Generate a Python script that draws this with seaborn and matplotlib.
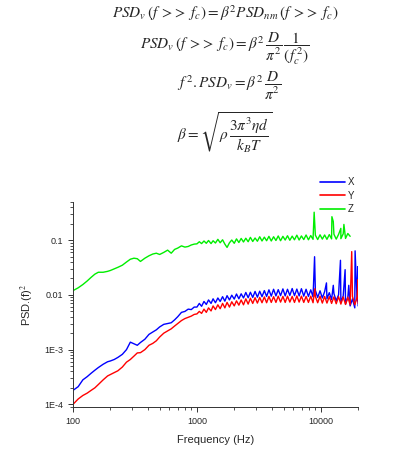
"""
PSD of X, Y, Z signals multiplied by f^2 (log-log)
"""

import pandas as pd
import numpy as np
import matplotlib.pyplot as plt
import seaborn as sns
from matplotlib.ticker import NullFormatter

# -----------------------------
# DATA
# -----------------------------

freq_low = [100, 110, 120, 130, 140, 150, 160, 175, 190, 200, 215, 230, 250, 270,
            290, 310, 330, 350, 380, 410, 440, 470, 500, 540, 580, 620, 660, 700,
            750, 800, 850, 900, 950]

freq_high = [1000, 1045, 1090, 1140, 1190, 1240, 1300, 1350, 1410, 1475, 1540, 1610,
             1680, 1750, 1830, 1910, 2000, 2085, 2180, 2275, 2375, 2480, 2590, 2700,
             2820, 2945, 3075, 3210, 3350, 3500, 3650, 3810, 3980, 4155, 4340, 4530,
             4730, 4940, 5155, 5380, 5620, 5870, 6125, 6400, 6680, 6970, 7280, 7600,
             7940, 8290, 8650, 9030, 9430, 9850, 10280, 10730, 11200, 11700, 12210,
             12750, 13310, 13900, 14510, 15150, 15820, 16510, 17240, 18000, 18790,
             19620, 20000]

x_low = [1.8e-4, 2.1e-4, 2.8e-4, 3.2e-4, 3.7e-4, 4.2e-4, 4.7e-4, 5.4e-4, 6.0e-4, 6.2e-4,
         6.6e-4, 7.2e-4, 8.2e-4, 1.0e-3, 1.37e-3, 1.28e-3, 1.2e-3, 1.35e-3, 1.55e-3,
         1.9e-3, 2.1e-3, 2.3e-3, 2.6e-3, 2.9e-3, 3.0e-3, 3.1e-3, 3.5e-3, 4.0e-3, 4.8e-3,
         5.0e-3, 5.5e-3, 5.4e-3, 6.0e-3]
x_high = [6.0e-3, 7.0e-3, 6.2e-3, 7.6e-3, 6.7e-3, 8.1e-3, 7.0e-3, 8.5e-3, 7.2e-3, 8.8e-3,
          7.6e-3, 9.3e-3, 7.7e-3, 9.7e-3, 8.1e-3, 9.9e-3, 8.4e-3, 10.4e-3, 8.5e-3, 10.5e-3,
          8.8e-3, 11.1e-3, 8.9e-3, 11.2e-3, 9.0e-3, 11.6e-3, 9.1e-3, 11.7e-3, 9.3e-3,
          12.0e-3, 9.4e-3, 12.4e-3, 9.5e-3, 12.7e-3, 9.6e-3, 12.5e-3, 9.7e-3, 12.9e-3,
          9.6e-3, 12.7e-3, 9.8e-3, 13.1e-3, 9.7e-3, 12.8e-3, 9.6e-3, 13.0e-3, 9.5e-3,
          12.7e-3, 9.4e-3, 12.4e-3, 9.2e-3, 12.1e-3, 9.0e-3, 11.9e-3, 8.8e-3, 11.5e-3,
          8.5e-3, 11.0e-3, 8.2e-3, 10.6e-3, 7.8e-3, 10.1e-3, 7.3e-3, 9.6e-3, 6.8e-3, 9.1e-3,
          6.3e-3, 8.5e-3, 5.8e-3, 7.8e-3, 6.3e-3]
x_spike_f = [8900, 11100, 12600, 14400, 15700, 16800, 18900, 19900]
x_spike_v = [0.050, 0.0166, 0.015, 0.043, 0.029, 0.015, 0.064, 0.033]

y_low = [1.0e-4, 1.25e-4, 1.45e-4, 1.6e-4, 1.8e-4, 2.0e-4, 2.3e-4, 2.8e-4, 3.3e-4, 3.5e-4,
         3.8e-4, 4.1e-4, 4.8e-4, 5.9e-4, 6.6e-4, 7.6e-4, 8.7e-4, 8.8e-4, 1.0e-3, 1.2e-3,
         1.3e-3, 1.45e-3, 1.7e-3, 2.0e-3, 2.2e-3, 2.4e-3, 2.7e-3, 3.0e-3, 3.4e-3, 3.7e-3,
         3.9e-3, 4.1e-3, 4.4e-3]
y_high = [4.5e-3, 5.0e-3, 4.6e-3, 5.5e-3, 4.8e-3, 5.8e-3, 5.1e-3, 6.3e-3, 5.4e-3, 6.6e-3,
          5.6e-3, 7.0e-3, 5.8e-3, 7.3e-3, 6.0e-3, 7.5e-3, 6.3e-3, 7.8e-3, 6.5e-3, 8.1e-3,
          6.6e-3, 8.5e-3, 6.8e-3, 8.7e-3, 7.0e-3, 8.9e-3, 7.1e-3, 9.0e-3, 7.2e-3, 9.2e-3,
          7.2e-3, 9.4e-3, 7.3e-3, 9.3e-3, 7.3e-3, 9.5e-3, 7.4e-3, 9.4e-3, 7.3e-3, 9.5e-3,
          7.4e-3, 9.4e-3, 7.3e-3, 9.6e-3, 7.4e-3, 9.5e-3, 7.3e-3, 9.4e-3, 7.3e-3, 9.5e-3,
          7.2e-3, 9.4e-3, 7.2e-3, 9.5e-3, 7.1e-3, 9.4e-3, 7.1e-3, 9.3e-3, 7.0e-3, 9.2e-3,
          6.9e-3, 9.3e-3, 6.8e-3, 9.2e-3, 6.7e-3, 9.1e-3, 6.6e-3, 9.4e-3, 6.6e-3, 9.2e-3,
          7.0e-3]
y_spike_f = [8950, 17750, 19950]
y_spike_v = [0.013, 0.062, 0.019]

z_low = [0.012, 0.0135, 0.0155, 0.018, 0.021, 0.024, 0.026, 0.026, 0.027, 0.028, 0.030,
         0.032, 0.035, 0.040, 0.045, 0.047, 0.046, 0.041, 0.047, 0.052, 0.056, 0.058,
         0.055, 0.060, 0.066, 0.058, 0.068, 0.072, 0.079, 0.075, 0.077, 0.082, 0.085]
z_high = [0.086, 0.094, 0.087, 0.097, 0.088, 0.099, 0.087, 0.098, 0.089, 0.104, 0.090,
          0.102, 0.085, 0.074, 0.090, 0.101, 0.088, 0.106, 0.091, 0.108, 0.093, 0.109,
          0.094, 0.113, 0.095, 0.110, 0.096, 0.116, 0.097, 0.114, 0.098, 0.118, 0.097,
          0.116, 0.099, 0.120, 0.098, 0.118, 0.101, 0.121, 0.100, 0.119, 0.102, 0.124,
          0.101, 0.120, 0.103, 0.125, 0.102, 0.122, 0.104, 0.124, 0.103, 0.126, 0.105,
          0.125, 0.104, 0.127, 0.106, 0.129, 0.105, 0.128, 0.107, 0.131, 0.108, 0.133,
          0.118]
z_spike_f = [8830, 12280, 12600, 14500, 15350]
z_spike_v = [0.326, 0.27, 0.22, 0.165, 0.195]

# -----------------------------
# MONTAGEM DO DATAFRAME
# -----------------------------

def serie(nome, f_base, v_base, f_spk, v_spk):
    d = pd.DataFrame({"f": list(f_base) + list(f_spk), "psd": list(v_base) + list(v_spk)})
    d["eixo"] = nome
    return d.sort_values("f")

freq_all = freq_low + freq_high
df = pd.concat([
    serie("X", freq_all, x_low + x_high, x_spike_f, x_spike_v),
    serie("Y", freq_all, y_low + y_high, y_spike_f, y_spike_v),
    serie("Z", freq_all[:len(z_low) + len(z_high)], z_low + z_high, z_spike_f, z_spike_v),
], ignore_index=True)

# -----------------------------
# GRÁFICO
# -----------------------------

sns.set_style("ticks")
plt.rcParams["font.family"] = ["Liberation Sans", "DejaVu Sans"]
plt.rcParams["mathtext.fontset"] = "stix"

fig = plt.figure(figsize=(4.15, 4.51), dpi=100)
ax = fig.add_axes([0.176, 0.098, 0.687, 0.454])

cores = {"X": "#0000ff", "Y": "#ff0000", "Z": "#00ee00"}
sns.lineplot(data=df, x="f", y="psd", hue="eixo", palette=cores, estimator=None,
             sort=False, linewidth=1.0, ax=ax, legend=False)

ax.set_xscale("log")
ax.set_yscale("log")
ax.set_xlim(100, 20000)
ax.set_ylim(9e-5, 0.5)
ax.set_xticks([100, 1000, 10000])
ax.set_xticklabels(["100", "1000", "10000"])
ax.set_yticks([1e-4, 1e-3, 1e-2, 1e-1])
ax.set_yticklabels(["1E-4", "1E-3", "0.01", "0.1"])
ax.xaxis.set_minor_formatter(NullFormatter())
ax.yaxis.set_minor_formatter(NullFormatter())
ax.tick_params(which="major", length=3.5, width=0.7, labelsize=6.5, color="#333333")
ax.tick_params(which="minor", length=2, width=0.6, color="#333333")
ax.tick_params(axis="x", pad=4)
sns.despine(ax=ax)
for s in ["left", "bottom"]:
    ax.spines[s].set_linewidth(0.7)
    ax.spines[s].set_color("#333333")

ax.set_xlabel("Frequency (Hz)", fontsize=8, labelpad=6)
ax.set_ylabel("PSD.(f)$^2$", fontsize=8, labelpad=6)

handles = [plt.Line2D([], [], color=cores[k], linewidth=1.2) for k in ["X", "Y", "Z"]]
fig.legend(handles, ["X", "Y", "Z"], loc="upper left", bbox_to_anchor=(0.772, 0.607),
           frameon=False, fontsize=7, handlelength=2.5, handletextpad=0.3,
           labelspacing=0.35, borderpad=0, borderaxespad=0)

# Equações
fs = 11
gg = r"\;{>}\!{>}\;"
fig.text(0.542, 1 - 13 / 451,
         r"$PSD_v\,(f" + gg + r"f_c) = \beta^2 PSD_{nm}\,(f" + gg + r"f_c)$",
         ha="center", va="center", fontsize=fs)
fig.text(0.542, 1 - 49 / 451,
         r"$PSD_v\,(f" + gg + r"f_c) = \beta^2\,\dfrac{D}{\pi^2}\,\dfrac{1}{(f_c^{\,2})}$",
         ha="center", va="center", fontsize=fs)
fig.text(0.552, 1 - 86 / 451, r"$f^{\,2}.PSD_v = \beta^2\,\dfrac{D}{\pi^2}$",
         ha="center", va="center", fontsize=fs)
fig.text(0.542, 1 - 132 / 451, r"$\beta = \sqrt{\rho\,\dfrac{3\pi^3\eta d}{k_B T}}$",
         ha="center", va="center", fontsize=fs)

fig.savefig("out.png", dpi=100)
